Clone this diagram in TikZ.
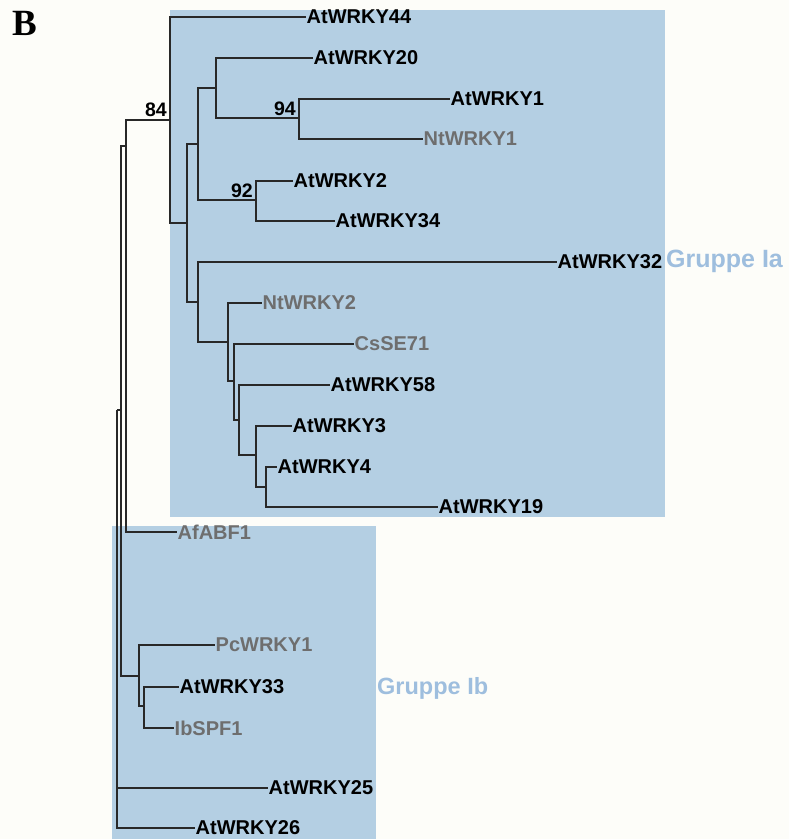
\documentclass[tikz,border=0pt]{standalone}
\usepackage{fontspec}
\setmainfont{Liberation Sans}
\newfontfamily\labfont{Liberation Sans}[BoldFont={Liberation Sans Bold}]
\newfontfamily\panelfont{Liberation Serif}[BoldFont={Liberation Serif Bold}]
\definecolor{bgcol}{RGB}{253,253,249}
\definecolor{boxcol}{RGB}{180,207,227}
\definecolor{grpcol}{RGB}{158,190,222}
\definecolor{graylab}{RGB}{110,110,110}
\definecolor{linecol}{RGB}{40,40,40}
\tikzset{
  leaf/.style={anchor=west,inner xsep=0.5pt,inner ysep=0pt,font=\labfont\bfseries\fontsize{20}{22}\selectfont,text=black},
  gleaf/.style={leaf,text=graylab},
  boot/.style={anchor=south east,inner sep=0pt,font=\labfont\bfseries\fontsize{19.5}{21}\selectfont},
  branch/.style={draw=linecol,line width=1.3pt},
  grp/.style={anchor=west,inner sep=0pt,text=grpcol,font=\labfont\bfseries},
}
\begin{document}
\begin{tikzpicture}[x=1pt,y=-1pt]
\fill[bgcol] (0,0) rectangle (789,839);
\useasboundingbox (0,0) rectangle (789,839);
% clade boxes
\fill[boxcol] (170,10) rectangle (665,517);
\fill[boxcol] (112,526) rectangle (376,839);
% panel letter
\node[anchor=north west,inner sep=0pt,font=\panelfont\bfseries\fontsize{37}{40}\selectfont] (panel) at (12,11) {B};
% internal nodes
\coordinate (R) at (117,410);
\coordinate (N1) at (121,410);
\coordinate (N2) at (126,146);
\coordinate (A0) at (170,120);
\coordinate (A1) at (187,223);
\coordinate (A2) at (198,144);
\coordinate (A4) at (216,88);
\coordinate (A6) at (299,118);
\coordinate (A5) at (256,200);
\coordinate (A3) at (198,302);
\coordinate (A7) at (228,342);
\coordinate (A8) at (234,381);
\coordinate (A9) at (239,420);
\coordinate (A10) at (256,455);
\coordinate (A11) at (266,487);
\coordinate (Pc) at (139,676);
\coordinate (Q) at (144,706);
% leaves
\node[leaf] (w44) at (306,17) {AtWRKY44};
\node[leaf] (w20) at (313,58) {AtWRKY20};
\node[leaf] (w1) at (450,99) {AtWRKY1};
\node[gleaf] (nt1) at (423,139) {NtWRKY1};
\node[leaf] (w2) at (293,181) {AtWRKY2};
\node[leaf] (w34) at (335,221) {AtWRKY34};
\node[leaf] (w32) at (557,262) {AtWRKY32};
\node[gleaf] (nt2) at (262,303) {NtWRKY2};
\node[gleaf] (cs) at (354,344) {CsSE71};
\node[leaf] (w58) at (330,385) {AtWRKY58};
\node[leaf] (w3) at (292,426) {AtWRKY3};
\node[leaf] (w4) at (277,467) {AtWRKY4};
\node[leaf] (w19) at (438,507) {AtWRKY19};
\node[gleaf] (af) at (177,532) {AfABF1};
\node[gleaf] (pc1) at (215,645) {PcWRKY1};
\node[leaf] (w33) at (179,687) {AtWRKY33};
\node[gleaf] (ib) at (174,728) {IbSPF1};
\node[leaf] (w25) at (268,788) {AtWRKY25};
\node[leaf] (w26) at (195,828) {AtWRKY26};
% branches
\draw[branch] (R) -- (N1);
\draw[branch] (R) |- (w25.west);
\draw[branch] (R) |- (w26.west);
\draw[branch] (N1) |- (N2);
\draw[branch] (N1) |- (Pc);
\draw[branch] (N2) |- (A0);
\draw[branch] (N2) |- (af.west);
\draw[branch] (A0) |- (w44.west);
\draw[branch] (A0) |- (A1);
\draw[branch] (A1) |- (A2);
\draw[branch] (A1) |- (A3);
\draw[branch] (A2) |- (A4);
\draw[branch] (A2) |- (A5);
\draw[branch] (A4) |- (w20.west);
\draw[branch] (A4) |- (A6);
\draw[branch] (A6) |- (w1.west);
\draw[branch] (A6) |- (nt1.west);
\draw[branch] (A5) |- (w2.west);
\draw[branch] (A5) |- (w34.west);
\draw[branch] (A3) |- (w32.west);
\draw[branch] (A3) |- (A7);
\draw[branch] (A7) |- (nt2.west);
\draw[branch] (A7) |- (A8);
\draw[branch] (A8) |- (cs.west);
\draw[branch] (A8) |- (A9);
\draw[branch] (A9) |- (w58.west);
\draw[branch] (A9) |- (A10);
\draw[branch] (A10) |- (w3.west);
\draw[branch] (A10) |- (A11);
\draw[branch] (A11) |- (w4.west);
\draw[branch] (A11) |- (w19.west);
\draw[branch] (Pc) |- (pc1.west);
\draw[branch] (Pc) |- (Q);
\draw[branch] (Q) |- (w33.west);
\draw[branch] (Q) |- (ib.west);
% bootstrap values
\node[boot] (b84) at (167,117) {84};
\node[boot] (b94) at (296,116) {94};
\node[boot] (b92) at (253,198) {92};
% group labels
\node[grp,font=\labfont\bfseries\fontsize{25}{27}\selectfont] (ga) at (666,261) {Gruppe Ia};
\node[grp,font=\labfont\bfseries\fontsize{23.5}{25}\selectfont] (gb) at (377,688) {Gruppe Ib};
\end{tikzpicture}
\end{document}
